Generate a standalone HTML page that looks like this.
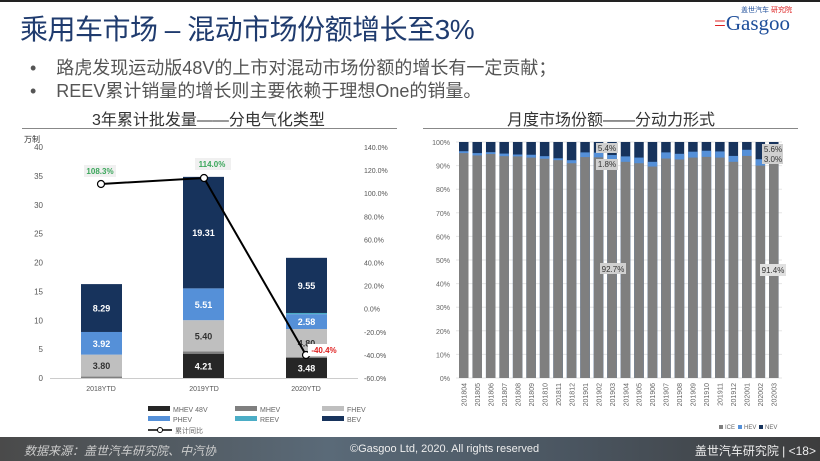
<!DOCTYPE html>
<html><head><meta charset="utf-8">
<style>
body{margin:0;width:820px;height:461px;overflow:hidden;background:#fff;font-family:"Liberation Sans","Noto Sans CJK SC",sans-serif;position:relative}
.t{position:absolute;white-space:nowrap}
</style></head><body>
<div style="position:absolute;left:0;top:0;width:820px;height:2px;background:#222"></div>
<div class="t" style="left:20px;top:8px;font-size:28px;color:#1f3b6e;letter-spacing:-0.5px">乘用车市场 – 混动市场份额增长至3%</div>
<div class="t" style="left:714px;top:11px;font-size:21px;color:#1e4e9a;font-family:'Liberation Serif',serif"><span style="color:#d22">=</span>Gasgoo</div>
<div class="t" style="left:741px;top:5px;font-size:7px;color:#1e4e9a;background:#fff">盖世汽车 <span style="color:#d22">研究院</span></div>
<div class="t" style="left:30px;top:54px;font-size:18px;color:#555">•&nbsp;&nbsp;&nbsp; 路虎发现运动版48V的上市对混动市场份额的增长有一定贡献；</div>
<div class="t" style="left:30px;top:77px;font-size:18px;color:#555">•&nbsp;&nbsp;&nbsp; REEV累计销量的增长则主要依赖于理想One的销量。</div>
<div class="t" style="left:92px;top:106px;font-size:16px;color:#333">3年累计批发量——分电气化类型</div>
<div class="t" style="left:507px;top:106px;font-size:16px;color:#333">月度市场份额——分动力形式</div>
<div style="position:absolute;left:22px;top:128px;width:375px;height:1px;background:#888"></div>
<div style="position:absolute;left:423px;top:128px;width:375px;height:1px;background:#888"></div>
<svg id="s" width="820" height="461" style="position:absolute;left:0;top:0" font-family="Liberation Sans, Noto Sans CJK SC, sans-serif"></svg>
<div style="position:absolute;left:0;top:437px;width:820px;height:24px;background:linear-gradient(90deg,#4a4a4a,#5a6a78 40%,#4a5560 70%,#3d3d3d)"></div>
<div class="t" style="left:24px;top:442px;font-size:12px;color:#ccc;font-style:italic">数据来源：盖世汽车研究院、中汽协</div>
<div class="t" style="left:350px;top:443px;font-size:11px;color:#eee">©Gasgoo Ltd, 2020. All rights reserved</div>
<div class="t" style="right:4px;top:442px;font-size:12px;color:#eee">盖世汽车研究院 | &lt;18&gt;</div>
<script>
var s=document.getElementById('s'),h='';
function R(x,y,w,hh,c){h+='<rect x="'+x+'" y="'+y+'" width="'+w+'" height="'+hh+'" fill="'+c+'"/>';}
function T(x,y,t,sz,c,a,extra){h+='<text x="'+x+'" y="'+y+'" font-size="'+sz+'" fill="'+c+'" text-anchor="'+(a||'start')+'" '+(extra||'')+'>'+t+'</text>';}
var y0=378,k=5.775;
T(24,142,'万制',8,'#333');
for(var i=0;i<=8;i++){T(43,y0-i*5*k+3,i*5,8,'#555','end');}
for(var i=0;i<=10;i++){var v=140-i*20;T(364,147+i*23.1+3,v.toFixed(1)+'%',7,'#555');}
h+='<line x1="50" y1="378.5" x2="358" y2="378.5" stroke="#ccc"/>';
var C={m48:'#262626',m:'#7f7f7f',f:'#bfbfbf',p:'#5590d8',r:'#4badc6',b:'#17335c'};
var bars=[[81,[['m',0.25],['f',3.8,'3.80'],['p',3.92,'3.92'],['b',8.29,'8.29']]],
[183,[['m48',4.21,'4.21'],['m',0.4],['f',5.4,'5.40'],['p',5.51,'5.51'],['b',19.31,'19.31']]],
[286,[['m48',3.48,'3.48'],['m',0.2],['f',4.8,'4.80'],['p',2.58,'2.58'],['r',0.2],['b',9.55,'9.55']]]];
bars.forEach(function(b){var cum=0;b[1].forEach(function(sg){var yt=y0-(cum+sg[1])*k;R(b[0],yt,41,sg[1]*k,C[sg[0]]);
if(sg[2]){var lc=(sg[0]=='f')?'#333':'#fff';T(b[0]+20.5,yt+sg[1]*k/2+3.5,sg[2],9,lc,'middle','font-weight="bold"');}cum+=sg[1];});});
T(101,391,'2018YTD',7,'#555','middle');T(204,391,'2019YTD',7,'#555','middle');T(306,391,'2020YTD',7,'#555','middle');
h+='<polyline points="101,184 204,178 306,355" fill="none" stroke="#000" stroke-width="2"/>';
[[101,184],[204,178],[306,355]].forEach(function(p){h+='<circle cx="'+p[0]+'" cy="'+p[1]+'" r="3.5" fill="#fff" stroke="#000" stroke-width="1.2"/>';});
R(84,165,32,12,'#f0f0f0');T(100,174,'108.3%',8,'#3aa65a','middle','font-weight="bold"');
R(195,158,36,12,'#f0f0f0');T(212,167,'114.0%',8,'#3aa65a','middle','font-weight="bold"');
R(308,344,32,12,'#fff');T(324,353,'-40.4%',8,'#e02020','middle','font-weight="bold"');
var L=[['MHEV 48V','m48',148,409],['MHEV','m',235,409],['FHEV','f',322,409],['PHEV','p',148,419],['REEV','r',235,419],['BEV','b',322,419]];
L.forEach(function(l){R(l[2],l[3]-3,22,5,C[l[1]]);T(l[2]+25,l[3]+3,l[0],7,'#666');});
h+='<line x1="148" y1="430" x2="172" y2="430" stroke="#000" stroke-width="1.5"/><circle cx="160" cy="430" r="2.5" fill="#fff" stroke="#000"/>';
T(175,433,'累计同比',7,'#666');
var ry=378,rk=2.36;
for(var i=0;i<=10;i++){var yy=ry-i*10*rk;T(450,yy+3,i*10+'%',7,'#666','end');h+='<line x1="456" y1="'+yy+'" x2="782" y2="'+yy+'" stroke="#e6e6e6"/>';}
var ice=[95.3,94.3,94.9,94.0,93.9,93.4,92.9,92.3,91.0,93.6,93.5,92.7,91.6,91.0,89.6,93.0,92.6,93.4,93.7,93.4,91.6,94.1,90.0,91.4];
var hev=[96.1,95.3,95.7,95.1,94.7,94.6,94.0,93.1,92.3,95.6,95.5,94.5,93.9,93.4,91.6,95.6,95.0,95.9,96.3,96.0,94.1,96.7,92.7,94.4];
var lab=[];for(var y=2018,m=4;lab.length<24;){lab.push(y+''+(m<10?'0':'')+m);m++;if(m>12){m=1;y++;}}
for(var i=0;i<24;i++){var x=459+i*13.48;R(x,ry-100*rk,9.5,100*rk,'#17335c');R(x,ry-hev[i]*rk,9.5,hev[i]*rk,'#5590d8');R(x,ry-ice[i]*rk,9.5,ice[i]*rk,'#7f7f7f');
h+='<text x="'+(x+7.5)+'" y="383" font-size="7" fill="#666" text-anchor="end" transform="rotate(-90 '+(x+7.5)+' 383)">'+lab[i]+'</text>';}
R(596,143,22,10,'#d0d0d0');T(607,151,'5.4%',8,'#333','middle');
R(596,159,22,11,'#d0d0d0');T(607,167,'1.8%',8,'#333','middle');
R(600,263,26,11,'#d0d0d0');T(613,272,'92.7%',8,'#333','middle');
R(762,144,21,10,'#d0d0d0');T(773,152,'5.6%',8,'#333','middle');
R(762,154,21,10,'#d0d0d0');T(773,162,'3.0%',8,'#333','middle');
R(760,264,26,12,'#e0e0e0');T(773,273,'91.4%',8,'#333','middle');
R(719,425,4,4,'#7f7f7f');T(725,429,'ICE',6,'#666');R(738,425,4,4,'#5590d8');T(744,429,'HEV',6,'#666');R(759,425,4,4,'#17335c');T(765,429,'NEV',6,'#666');
s.innerHTML=h;
</script>
</body></html>
